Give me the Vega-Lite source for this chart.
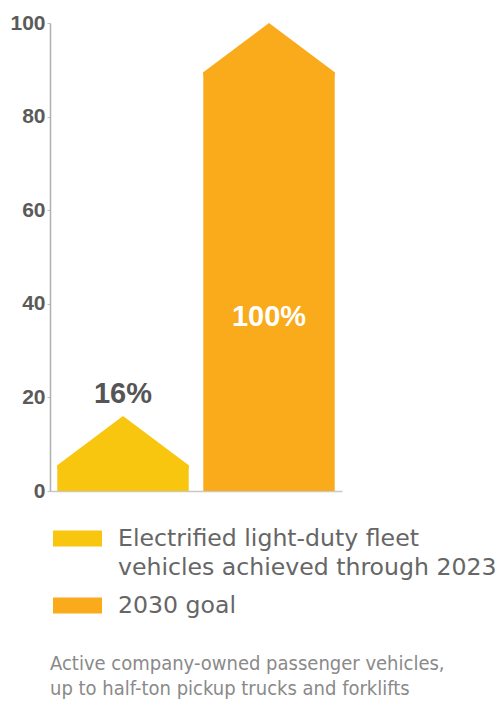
{
  "$schema": "https://vega.github.io/schema/vega-lite/v6.json",
  "width": 292,
  "height": 468,
  "autosize": {"type": "none"},
  "padding": {"left": 50, "top": 23, "right": 158, "bottom": 213},
  "background": "#ffffff",
  "config": {
    "view": {"stroke": null},
    "style": {"guide-label": {"lineHeight": 29}}
  },
  "title": {
    "text": ["Active company-owned passenger vehicles,", "up to half-ton pickup trucks and forklifts"],
    "orient": "bottom",
    "anchor": "start",
    "frame": "group",
    "font": "DejaVu Sans Condensed",
    "fontSize": 20,
    "fontWeight": "normal",
    "color": "#8a8a8a",
    "lineHeight": 25,
    "offset": 36
  },
  "data": {
    "values": [
      {"category": "Electrified light-duty fleet\nvehicles achieved through 2023", "value": 16, "label": "16%"},
      {"category": "2030 goal", "value": 100, "label": "100%"}
    ]
  },
  "encoding": {
    "x": {
      "field": "category",
      "type": "nominal",
      "sort": null,
      "scale": {"paddingInner": 0.1, "paddingOuter": 0.05},
      "axis": {"title": null, "labels": false, "ticks": false, "domainColor": "#c8c8c8", "domainWidth": 1.5}
    },
    "y": {
      "field": "value",
      "type": "quantitative",
      "scale": {"domain": [0, 100], "nice": false},
      "axis": {
        "title": null,
        "values": [0, 20, 40, 60, 80, 100],
        "grid": false,
        "domainColor": "#b0b0b0",
        "domainWidth": 1.5,
        "tickColor": "#c0c0c0",
        "tickSize": 3,
        "labelPadding": 2,
        "labelFont": "Liberation Sans",
        "labelFontSize": 21,
        "labelFontWeight": "bold",
        "labelColor": "#5a5a5a"
      }
    }
  },
  "layer": [
    {
      "mark": {"type": "bar", "yOffset": 49, "stack": null},
      "encoding": {
        "y": {"field": "value", "type": "quantitative", "stack": null},
        "color": {
          "field": "category",
          "type": "nominal",
          "sort": null,
          "scale": {"range": ["#f8c60f", "#f9ab1b"]},
          "legend": {
            "title": null,
            "orient": "none",
            "legendX": 3,
            "legendY": 491,
            "direction": "vertical",
            "padding": 0,
            "symbolType": "M-1,-0.33L1,-0.33L1,0.33L-1,0.33Z",
            "symbolSize": 2401,
            "symbolStrokeWidth": 0,
            "symbolOpacity": 1,
            "labelExpr": "split(datum.label, '\\n')",
            "labelFont": "DejaVu Sans",
            "labelFontSize": 23.6,
            "labelColor": "#666666",
            "labelLimit": 500,
            "labelOffset": 16,
            "rowPadding": 1
          }
        }
      }
    },
    {
      "mark": {"type": "point", "shape": "M0,0L1,0.748L1,0.8L-1,0.8L-1,0.748Z", "size": 17270, "filled": true, "opacity": 1, "strokeWidth": 0},
      "encoding": {
        "color": {"field": "category", "type": "nominal", "sort": null}
      }
    },
    {
      "transform": [{"filter": "datum.value < 50"}],
      "mark": {"type": "text", "dy": -22, "baseline": "middle", "font": "Liberation Sans", "fontSize": 29, "fontWeight": "bold", "color": "#555555"},
      "encoding": {"text": {"field": "label"}}
    },
    {
      "transform": [{"filter": "datum.value >= 50"}],
      "mark": {"type": "text", "dy": 294, "baseline": "middle", "font": "Liberation Sans", "fontSize": 29, "fontWeight": "bold", "color": "#ffffff"},
      "encoding": {"text": {"field": "label"}}
    }
  ]
}
